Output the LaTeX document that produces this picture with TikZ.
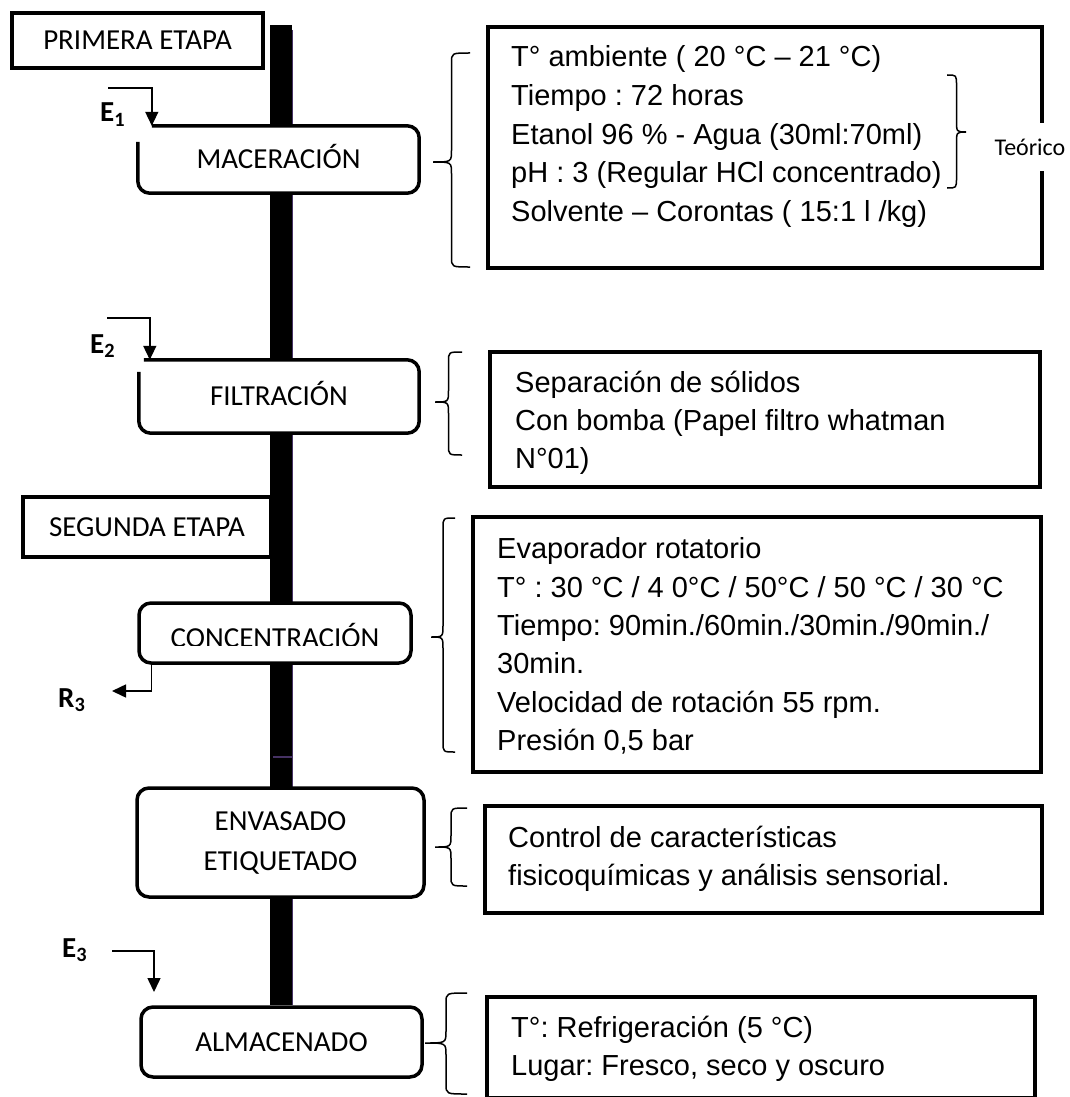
\documentclass[tikz,border=0pt]{standalone}
\usepackage{fontspec}
\setmainfont{Liberation Sans}
\newfontfamily\calfont{Carlito}
\newfontfamily\arifont{Liberation Sans}
\frenchspacing
\usetikzlibrary{arrows.meta,backgrounds}
\definecolor{barpurple}{RGB}{70,50,100}
% xtip, xend, ytop, ytip, ybot  (image coordinates, y down)
\newcommand\mybrace[5]{%
 \draw[bracestyle] (#2,#3) .. controls ({(#1+#2)/2},#3) .. ({(#1+#2)/2},{#3+10})
   -- ({(#1+#2)/2},{#4-12}) .. controls ({(#1+#2)/2},#4) .. (#1,#4)
   .. controls ({(#1+#2)/2},#4) .. ({(#1+#2)/2},{#4+12})
   -- ({(#1+#2)/2},{#5-10}) .. controls ({(#1+#2)/2},#5) .. (#2,#5);}
\tikzset{
 procbox/.style={draw, line width=3.5pt, rounded corners=12pt, fill=white, inner sep=0pt,
   font=\calfont\fontsize{29}{40}\selectfont, align=center},
 procplain/.style={fill=white, inner sep=0pt, rounded corners=12pt,
   font=\calfont\fontsize{29}{40}\selectfont, text height=18.7pt, text depth=0pt},
 procline/.style={line width=3.5pt, rounded corners=12pt},
 proctext/.style={inner sep=0pt, font=\calfont\fontsize{29}{40}\selectfont},
 stagebox/.style={draw, line width=3.5pt, fill=white, inner sep=0pt,
   font=\calfont\fontsize{29}{35}\selectfont},
 infobox/.style={draw, line width=4pt, fill=white, inner sep=0pt},
 infotext/.style={anchor=base west, inner sep=0pt, font=\arifont\fontsize{29}{35}\selectfont},
 flowlabel/.style={anchor=base west, inner sep=0pt, font=\calfont\bfseries\fontsize{29}{35}\selectfont},
 flowarrow/.style={line width=1.5pt, -{Triangle[length=14pt,width=13pt]}},
 bracestyle/.style={line width=1.5pt},
 sidelabel/.style={fill=white, inner sep=0pt, minimum height=47pt, font=\calfont\fontsize{24}{28}\selectfont},
}
\begin{document}
\begin{tikzpicture}[x=1pt,y=-1pt]
\useasboundingbox (0,0) rectangle (1069,1097);

% ---------- left column: stages ----------
\node[stagebox, minimum width=251pt, minimum height=55pt] (prim) at (137.5,40.5) {PRIMERA ETAPA};

\node[procplain, minimum width=281pt, minimum height=67pt] (mac) at (278.5,159.5) {MACERACIÓN};
\draw[procline] ([xshift=14pt]mac.north west) -- (mac.north east) -- (mac.south east)
   -- (mac.south west) -- ([yshift=-16pt]mac.north west);

\node[procplain, minimum width=280pt, minimum height=73pt] (fil) at (279,396.5) {FILTRACIÓN};
\draw[procline] ([xshift=5pt]fil.north west) -- (fil.north east) -- (fil.south east)
   -- (fil.south west) -- ([yshift=-12pt]fil.north west);

\node[stagebox, minimum width=248pt, minimum height=60pt] (seg) at (147,527) {SEGUNDA ETAPA};

\node[procbox, minimum width=272pt, minimum height=60pt] (con) at (275,633) {};
\begin{scope}
 \clip (142,600) rectangle (408,645.5);
 \node[proctext, anchor=base] (contxt) at (275,647) {CONCENTRACIÓN};
\end{scope}

\node[procbox, minimum width=287pt, minimum height=109pt] (env) at (280.5,842.5)
   {ENVASADO\\ETIQUETADO};

\node[procbox, minimum width=281pt, minimum height=70pt, text height=18.7pt, text depth=0pt]
   (alm) at (281.5,1042) {ALMACENADO};

% ---------- main vertical bar (behind the boxes) ----------
\coordinate (bartop) at (281,25);
\begin{scope}[on background layer]
 \draw[line width=22pt] (bartop) -- (alm.north -| bartop);
 \draw[barpurple, line width=1pt] (292.5,30) -- (292.5,1005);
 \draw[barpurple, line width=1.2pt] (273,757) -- (293,757);
\end{scope}

% ---------- inputs / outputs ----------
\coordinate (e1s) at (108,88);
\draw[flowarrow] (e1s) -| ([xshift=14pt]mac.north west);
\node[flowlabel] (e1) at (100,122) {E\textsubscript{1}};

\coordinate (e2s) at (107,318);
\draw[flowarrow] (e2s) -| ([xshift=11pt]fil.north west);
\node[flowlabel] (e2) at (90,353) {E\textsubscript{2}};

\coordinate (r3e) at (112,691);
\draw[flowarrow] ([xshift=14pt]con.south west) |- (r3e);
\node[flowlabel] (r3) at (58,707) {R\textsubscript{3}};

\coordinate (e3s) at (112,951);
\coordinate (e3e) at (154,992);
\draw[flowarrow] (e3s) -| (e3e);
\node[flowlabel] (e3) at (62,957) {E\textsubscript{3}};

% ---------- right column: conditions ----------
\node[infobox, minimum width=554pt, minimum height=241pt] (b1) at (765,147.5) {};
\node[sidelabel] (teo) at (1030,147) {Teórico};
\node[infotext] (b1l1) at (511,67)    {T° ambiente ( 20 °C – 21 °C)};
\node[infotext] (b1l2) at (511,105.5) {Tiempo : 72 horas};
\node[infotext] (b1l3) at (511,144)   {Etanol 96 \% - Agua (30ml:70ml)};
\node[infotext] (b1l4) at (511,182.5) {pH : 3 (Regular HCl concentrado)};
\node[infotext] (b1l5) at (511,221)   {Solvente – Corontas ( 15:1 l /kg)};

\node[infobox, minimum width=550pt, minimum height=135pt] (b2) at (765,419.5) {};
\node[infotext] (b2l1) at (515,392) {Separación de sólidos};
\node[infotext] (b2l2) at (515,430) {Con bomba (Papel filtro whatman};
\node[infotext] (b2l3) at (515,468) {N°01)};

\node[infobox, minimum width=568pt, minimum height=255pt] (b3) at (757,644.5) {};
\node[infotext] (b3l1) at (497,558) {Evaporador rotatorio};
\node[infotext] (b3l2) at (497,597) {T° : 30 °C / 4 0°C / 50°C / 50 °C / 30 °C};
\node[infotext] (b3l3) at (497,635) {Tiempo: 90min./60min./30min./90min./};
\node[infotext] (b3l4) at (497,673) {30min.};
\node[infotext] (b3l5) at (497,712) {Velocidad de rotación 55 rpm.};
\node[infotext] (b3l6) at (497,750) {Presión 0,5 bar};

\node[infobox, minimum width=557pt, minimum height=107pt] (b4) at (763.5,859.5) {};
\node[infotext] (b4l1) at (508,847) {Control de características};
\node[infotext] (b4l2) at (508,885) {fisicoquímicas y análisis sensorial.};

\node[infobox, minimum width=548pt, minimum height=101pt] (b5) at (761,1047.5) {};
\node[infotext] (b5l1) at (511,1037) {T°: Refrigeración (5 °C)};
\node[infotext] (b5l2) at (511,1075) {Lugar: Fresco, seco y oscuro};

% ---------- braces ----------
\mybrace{433}{470}{53}{162}{267}
\mybrace{966}{947}{75}{132}{188}
\mybrace{435}{462}{352}{402}{455}
\mybrace{431}{455}{518}{637}{752}
\mybrace{435}{467}{808}{847}{886}
\mybrace{425}{467}{993}{1043}{1094}
\end{tikzpicture}
\end{document}
